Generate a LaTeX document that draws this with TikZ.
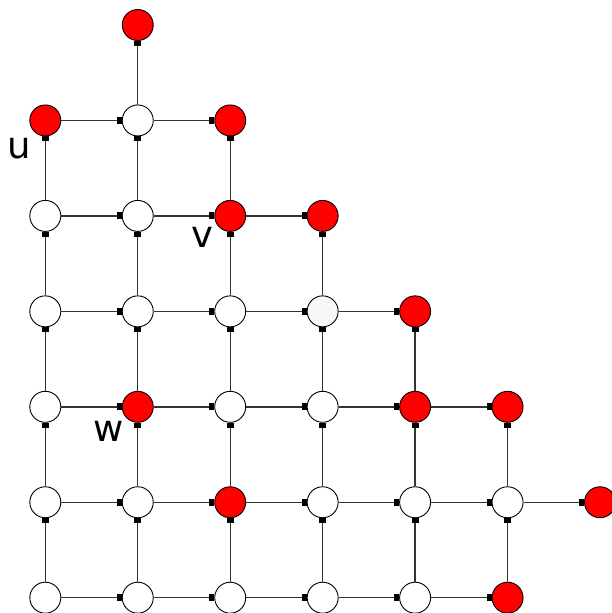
\documentclass[tikz,border=0pt]{standalone}
\usepackage{fontspec}
\setmainfont{DejaVu Sans}
\usetikzlibrary{arrows.meta}
\definecolor{lgray}{HTML}{F7F7F7}
\definecolor{edgec}{HTML}{333333}
\tikzset{
  vtx/.style={circle,draw=black,line width=0.9pt,minimum size=31pt,inner sep=0pt},
  wv/.style={vtx,fill=white},
  rv/.style={vtx,fill=red},
  gv/.style={vtx,fill=lgray},
  edge/.style={draw=edgec,line width=1.4pt,-{Rectangle[length=5pt,width=7pt,black]}},
  lab/.style={font=\fontsize{37}{37}\selectfont}
}
\begin{document}
\begin{tikzpicture}[x=1pt,y=-1pt]
\useasboundingbox (0,0) rectangle (612,613);
\foreach \n/\c/\r/\s in {
  a1/1/0/rv,
  b0/0/1/rv, b1/1/1/wv, b2/2/1/rv,
  c0/0/2/wv, c1/1/2/wv, c2/2/2/rv, c3/3/2/rv,
  d0/0/3/wv, d1/1/3/wv, d2/2/3/wv, d3/3/3/gv, d4/4/3/rv,
  e0/0/4/wv, e1/1/4/rv, e2/2/4/wv, e3/3/4/wv, e4/4/4/rv, e5/5/4/rv,
  f0/0/5/wv, f1/1/5/wv, f2/2/5/rv, f3/3/5/wv, f4/4/5/wv, f5/5/5/wv, f6/6/5/rv,
  g0/0/6/wv, g1/1/6/wv, g2/2/6/wv, g3/3/6/wv, g4/4/6/wv, g5/5/6/rv}
  {\node[\s] (\n) at ({45.3+92.45*\c},{25+95.45*\r}) {};}
% horizontal edges
\foreach \a/\b in {b0/b1,b1/b2,
  c0/c1,c1/c2,c2/c3,
  d0/d1,d1/d2,d2/d3,d3/d4,
  e0/e1,e1/e2,e2/e3,e3/e4,e4/e5,
  f0/f1,f1/f2,f2/f3,f3/f4,f4/f5,f5/f6,
  g0/g1,g1/g2,g2/g3,g3/g4,g4/g5}
  {\draw[edge] (\a) -- (\b);}
% vertical edges (upward)
\foreach \a/\b in {b1/a1,
  c0/b0,c1/b1,c2/b2,
  d0/c0,d1/c1,d2/c2,d3/c3,
  e0/d0,e1/d1,e2/d2,e3/d3,e4/d4,
  f0/e0,f1/e1,f2/e2,f3/e3,f4/e4,f5/e5,
  g0/f0,g1/f1,g2/f2,g3/f3,g4/f4,g5/f5}
  {\draw[edge] (\a) -- (\b);}
\node[lab] (lu) at (19,148) {u};
\node[lab] (lv) at (202,237) {v};
\node[lab] (lw) at (109,431) {w};
\end{tikzpicture}
\end{document}
